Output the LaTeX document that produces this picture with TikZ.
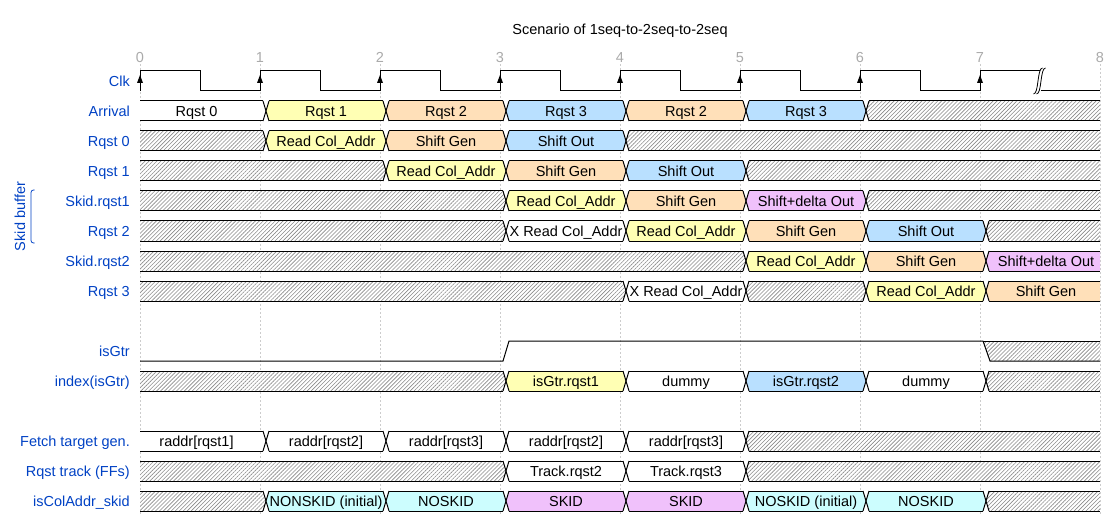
\documentclass[tikz,border=0pt]{standalone}
\usepackage{fontspec}
\setmainfont{Liberation Sans}
\usetikzlibrary{patterns.meta}
\definecolor{wblue}{HTML}{0041C4}
\definecolor{cY}{HTML}{FFFFB4}
\definecolor{cO}{HTML}{FFE0B9}
\definecolor{cB}{HTML}{B9E0FF}
\definecolor{cC}{HTML}{CCFDFE}
\definecolor{cP}{HTML}{F0C1FB}
\definecolor{cW}{HTML}{FFFFFF}
\definecolor{gridc}{HTML}{CCCCCC}
\definecolor{tickc}{HTML}{AAAAAA}
\definecolor{hatchc}{HTML}{8A8A8A}
\tikzset{
  sig/.style={line width=1pt, black},
  hatchfill/.style={pattern={Lines[angle=45,distance=2.8pt,line width=0.6pt]}, pattern color=hatchc},
  txt/.style={font=\fontsize{14.5}{17}\selectfont, text height=10.4pt, text depth=0pt, inner sep=0pt},
  lbl/.style={txt, text=wblue, anchor=east},
  btxt/.style={txt, text=black},
  tick/.style={txt, text=tickc},
  gridline/.style={gridc, line width=0.6pt, dash pattern=on 2pt off 2pt}
}
\newcommand\dseg[5]{%
  \pgfmathsetmacro\xa{140+120*#2}%
  \pgfmathsetmacro\xb{140+120*#3}%
  \ifnum#2=0
    \coordinate (LT) at (140,#1-10);
    \coordinate (LM) at (140,#1);
    \coordinate (LB) at (140,#1+10);
    \def\tx{196.5}%
  \else
    \coordinate (LT) at (\xa+9,#1-10);
    \coordinate (LM) at (\xa+6,#1);
    \coordinate (LB) at (\xa+9,#1+10);
    \pgfmathsetmacro\tx{\xa+66}%
  \fi
  \ifnum#3=8
    \coordinate (RT) at (1100,#1-10);
    \coordinate (RM) at (1100,#1);
    \coordinate (RB) at (1100,#1+10);
  \else
    \coordinate (RT) at (\xb+3,#1-10);
    \coordinate (RM) at (\xb+6,#1);
    \coordinate (RB) at (\xb+3,#1+10);
  \fi
  \def\tmpc{#4}\def\hx{X}%
  \ifx\tmpc\hx
    \fill[white] (LT) -- (RT) -- (RM) -- (RB) -- (LB) -- (LM) -- cycle;
    \fill[hatchfill] (LT) -- (RT) -- (RM) -- (RB) -- (LB) -- (LM) -- cycle;
  \else
    \fill[#4] (LT) -- (RT) -- (RM) -- (RB) -- (LB) -- (LM) -- cycle;
  \fi
  \draw[sig] (LT) -- (RT);
  \draw[sig] (LB) -- (RB);
  \ifnum#2>0 \draw[sig] (LT) -- (LM) -- (LB); \fi
  \ifnum#3<8 \draw[sig] (RT) -- (RM) -- (RB); \fi
  \if\relax\detokenize{#5}\relax\else
    \node[btxt] (s#1x#2) at (\tx,#1) {#5};
  \fi
}
\begin{document}
\begin{tikzpicture}[x=1pt,y=-1pt]
\useasboundingbox (0,0) rectangle (1120,516);
% grid and tick numbers
\foreach \t in {0,...,8} {
  \draw[gridline] (140+120*\t,64) -- (140+120*\t,516);
  \node[tick] (tk\t) at (140+120*\t,57) {\t};
}
\node[btxt] (title) at (620,29) {Scenario of 1seq-to-2seq-to-2seq};
% labels
\node[lbl] (lclk) at (130,81) {Clk};
\node[lbl] (larr) at (130,111) {Arrival};
\node[lbl] (lr0) at (130,141) {Rqst 0};
\node[lbl] (lr1) at (130,171) {Rqst 1};
\node[lbl] (ls1) at (130,201) {Skid.rqst1};
\node[lbl] (lr2) at (130,231) {Rqst 2};
\node[lbl] (ls2) at (130,261) {Skid.rqst2};
\node[lbl] (lr3) at (130,291) {Rqst 3};
\node[lbl] (lgtr) at (130,351) {isGtr};
\node[lbl] (lidx) at (130,381) {index(isGtr)};
\node[lbl] (lfet) at (130,441) {Fetch target gen.};
\node[lbl] (ltrk) at (130,471) {Rqst track (FFs)};
\node[lbl] (lcol) at (130,501) {isColAddr\_skid};
\node[txt, text=wblue, rotate=90] (lskid) at (20,216.5) {Skid buffer};
\draw[wblue, line width=0.8pt, rounded corners=2.5pt] (34.5,190) -- (31,190) -- (31,243) -- (34.5,243);
% clock
\foreach \t in {0,...,6} {
  \draw[sig] (140+120*\t,91) -- (140+120*\t,71) -- (200+120*\t,71) -- (200+120*\t,91) -- (260+120*\t,91);
}
\draw[sig] (980,91) -- (980,71) -- (1040,71);
\draw[sig] (1041,91) -- (1100,91);
\fill[white] (1042.5,68) .. controls (1037,68) and (1039,94) .. (1033.5,94) -- (1036.5,94) .. controls (1042,94) and (1040,68) .. (1045.5,68) -- cycle;
\draw[line width=0.8pt] (1042.5,68) .. controls (1037,68) and (1039,94) .. (1033.5,94);
\draw[line width=0.8pt] (1045.5,68) .. controls (1040,68) and (1042,94) .. (1036.5,94);
\foreach \t in {0,...,7} {
  \fill (140+120*\t-3,83) -- (140+120*\t+3,83) -- (140+120*\t,75) -- cycle;
}
% Arrival
\dseg{111}{0}{1}{cW}{Rqst 0}
\dseg{111}{1}{2}{cY}{Rqst 1}
\dseg{111}{2}{3}{cO}{Rqst 2}
\dseg{111}{3}{4}{cB}{Rqst 3}
\dseg{111}{4}{5}{cO}{Rqst 2}
\dseg{111}{5}{6}{cB}{Rqst 3}
\dseg{111}{6}{8}{X}{}
% Rqst 0
\dseg{141}{0}{1}{X}{}
\dseg{141}{1}{2}{cY}{Read Col\_Addr}
\dseg{141}{2}{3}{cO}{Shift Gen}
\dseg{141}{3}{4}{cB}{Shift Out}
\dseg{141}{4}{8}{X}{}
% Rqst 1
\dseg{171}{0}{2}{X}{}
\dseg{171}{2}{3}{cY}{Read Col\_Addr}
\dseg{171}{3}{4}{cO}{Shift Gen}
\dseg{171}{4}{5}{cB}{Shift Out}
\dseg{171}{5}{8}{X}{}
% Skid.rqst1
\dseg{201}{0}{3}{X}{}
\dseg{201}{3}{4}{cY}{Read Col\_Addr}
\dseg{201}{4}{5}{cO}{Shift Gen}
\dseg{201}{5}{6}{cP}{Shift+delta Out}
\dseg{201}{6}{8}{X}{}
% Rqst 2
\dseg{231}{0}{3}{X}{}
\dseg{231}{3}{4}{cW}{X Read Col\_Addr}
\dseg{231}{4}{5}{cY}{Read Col\_Addr}
\dseg{231}{5}{6}{cO}{Shift Gen}
\dseg{231}{6}{7}{cB}{Shift Out}
\dseg{231}{7}{8}{X}{}
% Skid.rqst2
\dseg{261}{0}{5}{X}{}
\dseg{261}{5}{6}{cY}{Read Col\_Addr}
\dseg{261}{6}{7}{cO}{Shift Gen}
\dseg{261}{7}{8}{cP}{Shift+delta Out}
% Rqst 3
\dseg{291}{0}{4}{X}{}
\dseg{291}{4}{5}{cW}{X Read Col\_Addr}
\dseg{291}{5}{6}{X}{}
\dseg{291}{6}{7}{cY}{Read Col\_Addr}
\dseg{291}{7}{8}{cO}{Shift Gen}
% isGtr
\draw[sig] (140,361) -- (503,361) -- (509,341) -- (983,341);
\fill[white] (983,341) -- (1100,341) -- (1100,361) -- (990,361) -- cycle;
\fill[hatchfill] (983,341) -- (1100,341) -- (1100,361) -- (990,361) -- cycle;
\draw[sig] (983,341) -- (1100,341);
\draw[sig] (983,341) -- (990,361) -- (1100,361);
% index(isGtr)
\dseg{381}{0}{3}{X}{}
\dseg{381}{3}{4}{cY}{isGtr.rqst1}
\dseg{381}{4}{5}{cW}{dummy}
\dseg{381}{5}{6}{cB}{isGtr.rqst2}
\dseg{381}{6}{7}{cW}{dummy}
\dseg{381}{7}{8}{X}{}
% Fetch target gen.
\dseg{441}{0}{1}{cW}{raddr[rqst1]}
\dseg{441}{1}{2}{cW}{raddr[rqst2]}
\dseg{441}{2}{3}{cW}{raddr[rqst3]}
\dseg{441}{3}{4}{cW}{raddr[rqst2]}
\dseg{441}{4}{5}{cW}{raddr[rqst3]}
\dseg{441}{5}{8}{X}{}
% Rqst track
\dseg{471}{0}{3}{X}{}
\dseg{471}{3}{4}{cW}{Track.rqst2}
\dseg{471}{4}{5}{cW}{Track.rqst3}
\dseg{471}{5}{8}{X}{}
% isColAddr_skid
\dseg{501}{0}{1}{X}{}
\dseg{501}{1}{2}{cC}{NONSKID (initial)}
\dseg{501}{2}{3}{cC}{NOSKID}
\dseg{501}{3}{4}{cP}{SKID}
\dseg{501}{4}{5}{cP}{SKID}
\dseg{501}{5}{6}{cC}{NOSKID (initial)}
\dseg{501}{6}{7}{cC}{NOSKID}
\dseg{501}{7}{8}{X}{}
\end{tikzpicture}
\end{document}
